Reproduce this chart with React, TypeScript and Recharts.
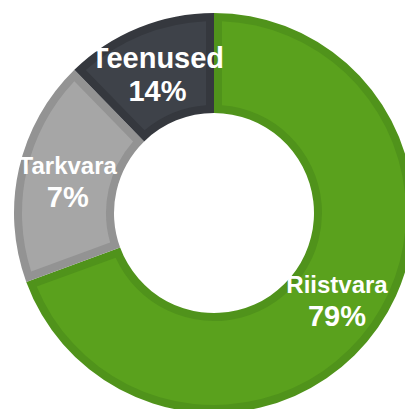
import React from "react";
import { PieChart, Pie, Cell } from "recharts";

const categories = ["Riistvara", "Tarkvara", "Teenused"];
const sliceValues = [69.4, 18.3, 12.3];
const percentLabels = ["79%", "7%", "14%"];

const fillColors = ["#5AA11D", "#A6A6A6", "#3E4249"];
const bandColors = ["#50931B", "#939393", "#35383E"];
const nameFontSizes = [24, 24, 29];

const data = categories.map((name, i) => ({
  name,
  value: sliceValues[i],
  pct: percentLabels[i],
}));

const RAD = Math.PI / 180;
const pt = (cx: number, cy: number, r: number, ang: number) =>
  [cx + r * Math.cos(ang * RAD), cy - r * Math.sin(ang * RAD)] as const;

function annularPath(
  cx: number,
  cy: number,
  rIn: number,
  rOut: number,
  a: number,
  b: number,
  inset: number
) {
  const dOut = inset > 0 ? Math.asin(inset / rOut) / RAD : 0;
  const dIn = inset > 0 ? Math.asin(inset / rIn) / RAD : 0;
  const oa = a + dOut;
  const ob = b - dOut;
  const ia = a + dIn;
  const ib = b - dIn;
  const large1 = ob - oa > 180 ? 1 : 0;
  const large2 = ib - ia > 180 ? 1 : 0;
  const p1 = pt(cx, cy, rOut, oa);
  const p2 = pt(cx, cy, rOut, ob);
  const p3 = pt(cx, cy, rIn, ib);
  const p4 = pt(cx, cy, rIn, ia);
  return `M${p1[0]},${p1[1]} A${rOut},${rOut} 0 ${large1} 0 ${p2[0]},${p2[1]} L${p3[0]},${p3[1]} A${rIn},${rIn} 0 ${large2} 1 ${p4[0]},${p4[1]} Z`;
}

const BAND = 8;

const SliceShape = (props: any) => {
  const { cx, cy, innerRadius, outerRadius, startAngle, endAngle, index } = props;
  const a = Math.min(startAngle, endAngle);
  const b = Math.max(startAngle, endAngle);
  return (
    <g>
      <path
        d={annularPath(cx, cy, innerRadius, outerRadius, a, b, 0)}
        fill={bandColors[index]}
        stroke="none"
      />
      <path
        d={annularPath(cx, cy, innerRadius + BAND, outerRadius - BAND, a, b, BAND)}
        fill={fillColors[index]}
        stroke="none"
      />
    </g>
  );
};

const renderLabel = (props: any) => {
  const { cx, cy, midAngle, index } = props;
  const r = 150;
  const [x, y] = pt(cx, cy, r, midAngle);
  return (
    <g>
      <text
        x={x}
        y={y - 6}
        textAnchor="middle"
        fill="#ffffff"
        fontFamily="'Liberation Sans', Arial, sans-serif"
        fontWeight="bold"
        fontSize={nameFontSizes[index]}
      >
        {categories[index]}
      </text>
      <text
        x={x}
        y={y + 27}
        textAnchor="middle"
        fill="#ffffff"
        fontFamily="'Liberation Sans', Arial, sans-serif"
        fontWeight="bold"
        fontSize={29}
      >
        {percentLabels[index]}
      </text>
    </g>
  );
};

export default function App() {
  return (
    <div style={{ position: "absolute", left: 0, top: 0, width: 405, height: 409, background: "#ffffff", overflow: "hidden" }}>
      <PieChart width={405} height={409} margin={{ top: 0, right: 0, bottom: 0, left: 0 }}>
        <Pie
          data={data}
          dataKey="value"
          nameKey="name"
          cx={214}
          cy={213}
          innerRadius={100}
          outerRadius={200}
          startAngle={90}
          endAngle={-270}
          paddingAngle={0}
          stroke="none"
          shape={SliceShape}
          label={renderLabel}
          labelLine={false}
          isAnimationActive={false}
        >
          {data.map((d, i) => (
            <Cell key={d.name} fill={fillColors[i]} />
          ))}
        </Pie>
      </PieChart>
    </div>
  );
}
